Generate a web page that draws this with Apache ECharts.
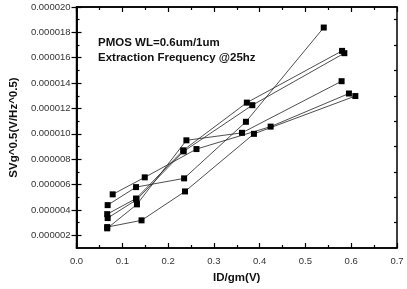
<!DOCTYPE html>
<html>
<head>
<meta charset="utf-8">
<script src="https://cdn.jsdelivr.net/npm/echarts@6/dist/echarts.min.js"></script>
<style>
  html, body { margin: 0; padding: 0; background: #fff; }
  #chart { width: 407px; height: 289px; }
</style>
</head>
<body>
<div id="chart"></div>
<script>
// ID/gm (V) and SVg^0.5 (V/Hz^0.5) for each device
var idgm1 = [0.079, 0.149, 0.262, 0.424, 0.595];
var svg1  = [5.23e-6, 6.57e-6, 8.80e-6, 10.57e-6, 13.18e-6];
var idgm2 = [0.068, 0.130, 0.235, 0.370, 0.540];
var svg2  = [4.38e-6, 5.80e-6, 6.49e-6, 10.95e-6, 18.38e-6];
var idgm3 = [0.067, 0.130, 0.233, 0.372, 0.580];
var svg3  = [3.67e-6, 4.90e-6, 8.70e-6, 12.46e-6, 16.54e-6];
var idgm4 = [0.068, 0.131, 0.234, 0.384, 0.585];
var svg4  = [3.36e-6, 4.80e-6, 8.62e-6, 12.26e-6, 16.36e-6];
var idgm5 = [0.067, 0.142, 0.237, 0.3875, 0.609];
var svg5  = [2.65e-6, 3.18e-6, 5.46e-6, 10.00e-6, 12.98e-6];
var idgm6 = [0.067, 0.132, 0.240, 0.3615, 0.579];
var svg6  = [2.55e-6, 4.44e-6, 9.49e-6, 10.08e-6, 14.15e-6];

var yMajor = [2e-6, 4e-6, 6e-6, 8e-6, 10e-6, 12e-6, 14e-6, 16e-6, 18e-6, 20e-6];
var yMinor = [3e-6, 5e-6, 7e-6, 9e-6, 11e-6, 13e-6, 15e-6, 17e-6, 19e-6];

var chart = echarts.init(document.getElementById('chart'));
var font = 'Liberation Sans, Arial, sans-serif';

function pairs(xs, ys) {
  return xs.map(function (x, i) { return [x, ys[i]]; });
}
function mkSeries(xs, ys) {
  return {
    type: 'line',
    xAxisIndex: 0,
    yAxisIndex: 0,
    data: pairs(xs, ys),
    symbol: 'rect',
    symbolSize: 6,
    itemStyle: { color: '#000' },
    lineStyle: { color: '#222', width: 0.8 },
    z: 3
  };
}

var lineBlack = { show: true, lineStyle: { color: '#000', width: 1.5 } };

function xAx(pos, showLabel) {
  return {
    type: 'value', position: pos, min: 0, max: 0.7, interval: 0.1,
    axisLine: lineBlack,
    axisTick: { show: true, inside: true, length: 5, lineStyle: { color: '#000', width: 1.2 } },
    minorTick: { show: true, splitNumber: 2, length: 3, lineStyle: { color: '#000', width: 1.2 } },
    splitLine: { show: false },
    axisLabel: {
      show: showLabel, margin: 8, color: '#333', fontSize: 9.5, fontFamily: font,
      formatter: function (v) { return v.toFixed(1); }
    },
    name: showLabel ? 'ID/gm(V)' : '',
    nameLocation: 'middle', nameGap: 24,
    nameTextStyle: { fontSize: 11.5, fontWeight: 'bold', color: '#111', fontFamily: font }
  };
}
function yAx(pos, showLabel, ticks, len, line) {
  return {
    type: 'value', position: pos, min: 1e-6, max: 2e-5,
    axisLine: line ? lineBlack : { show: false },
    axisTick: { show: true, inside: true, length: len, customValues: ticks, lineStyle: { color: '#000', width: 1.2 } },
    splitLine: { show: false },
    axisLabel: {
      show: showLabel, margin: 6, color: '#333', fontSize: 9.5, fontFamily: font,
      customValues: yMajor,
      formatter: function (v) { return v.toFixed(6); }
    },
    name: showLabel ? 'SVg^0.5(V/Hz^0.5)' : '',
    nameLocation: 'middle', nameGap: 50,
    nameTextStyle: { fontSize: 11.5, fontWeight: 'bold', color: '#111', fontFamily: font }
  };
}

var option = {
  animation: false,
  backgroundColor: '#fff',
  grid: { left: 67, right: 10, top: 7, bottom: 36, show: true, borderColor: '#000', borderWidth: 1.5, backgroundColor: 'transparent' },
  xAxis: [xAx('bottom', true), xAx('top', false)],
  yAxis: [
    yAx('left', true, yMajor, 5, true),
    yAx('right', false, yMajor, 5, true),
    yAx('left', false, yMinor, 3, false),
    yAx('right', false, yMinor, 3, false)
  ],
  graphic: [
    { type: 'text', left: 98, top: 37, style: { text: 'PMOS WL=0.6um/1um', font: 'bold 11.5px Liberation Sans, Arial, sans-serif', fill: '#111' } },
    { type: 'text', left: 98, top: 52, style: { text: 'Extraction Frequency @25hz', font: 'bold 11.5px Liberation Sans, Arial, sans-serif', fill: '#111' } }
  ],
  series: [
    mkSeries(idgm1, svg1),
    mkSeries(idgm2, svg2),
    mkSeries(idgm3, svg3),
    mkSeries(idgm4, svg4),
    mkSeries(idgm5, svg5),
    mkSeries(idgm6, svg6)
  ]
};

chart.setOption(option);
</script>
</body>
</html>
